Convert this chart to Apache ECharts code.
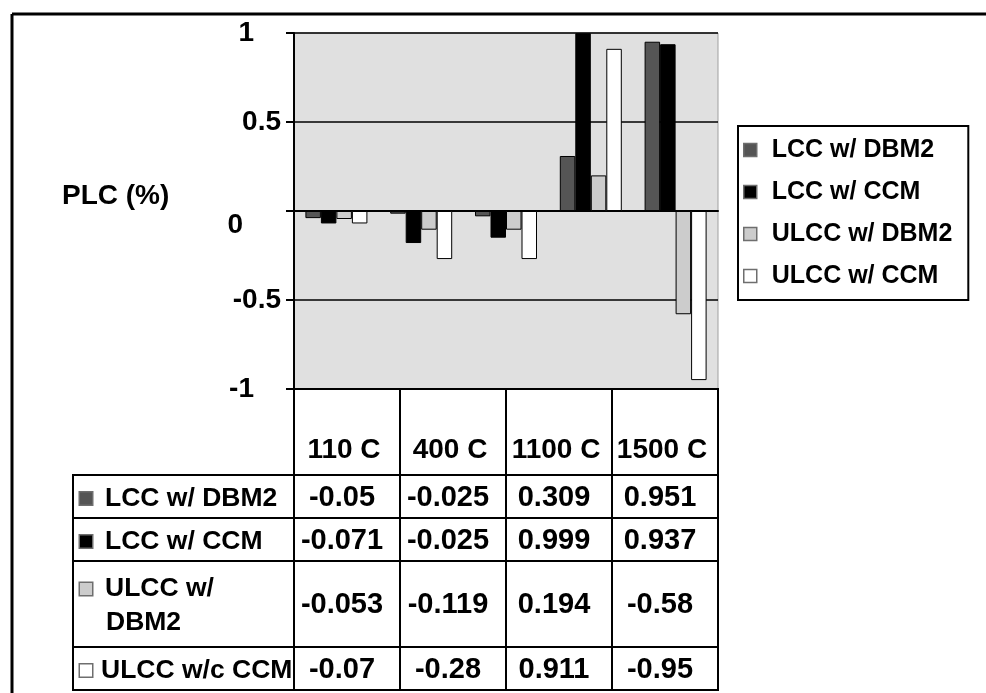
<!DOCTYPE html>
<html>
<head>
<meta charset="utf-8">
<script src="https://cdn.jsdelivr.net/npm/echarts@6/dist/echarts.min.js"></script>
<style>
html,body{margin:0;padding:0;background:#fff;}
#chart{width:986px;height:693px;}
</style>
</head>
<body>
<div id="chart"></div>
<script>
// ---- data ----
// bar groups drawn in the plot (five groups are drawn; the data table lists four)
const categories = ['110 C', '400 C', 'group 3', '1100 C', '1500 C'];
const seriesNames = ['LCC w/ DBM2', 'LCC w/ CCM', 'ULCC w/ DBM2', 'ULCC w/ CCM'];
const lccDbm2  = [-0.04, -0.015, -0.03, 0.309, 0.951];
const lccCcm   = [-0.07, -0.18, -0.15, 0.999, 0.937];
const ulccDbm2 = [-0.045, -0.105, -0.105, 0.2, -0.58];
const ulccCcm  = [-0.07, -0.27, -0.27, 0.911, -0.95];
const yTicks = [-1, -0.5, 0, 0.5, 1];
const yTitle = 'PLC (%)';

// data table below the plot
const tableColumns = ['110 C', '400 C', '1100 C', '1500 C'];
const tableRowLabels = ['LCC w/ DBM2', 'LCC w/ CCM', 'ULCC w/\nDBM2', 'ULCC w/c CCM'];
const tableValues = [
  ['-0.05', '-0.025', '0.309', '0.951'],
  ['-0.071', '-0.025', '0.999', '0.937'],
  ['-0.053', '-0.119', '0.194', '-0.58'],
  ['-0.07', '-0.28', '0.911', '-0.95']
];

// ---- styles / layout ----
const colors = ['#555555', '#000000', '#cccccc', '#ffffff'];
const FONT = '"Liberation Sans", Arial, sans-serif';
const rowUnits = [2, 1, 1, 2, 1];          // header + 4 rows (relative heights)
const labelColUnits = 221 / 106;           // label column width relative to a value column

const seriesValues = [lccDbm2, lccCcm, ulccDbm2, ulccCcm];

// build table cells
const rowEdges = [0];
rowUnits.forEach(u => rowEdges.push(rowEdges[rowEdges.length - 1] + u));
const cells = [];
tableColumns.forEach((t, c) => cells.push({x0: c, x1: c + 1, y0: rowEdges[0], y1: rowEdges[1], text: t, kind: 'head'}));
tableRowLabels.forEach((lab, r) => {
  const y0 = rowEdges[r + 1], y1 = rowEdges[r + 2];
  cells.push({x0: -labelColUnits, x1: 0, y0, y1, text: lab, kind: 'label', r});
  tableValues[r].forEach((v, c) => cells.push({x0: c, x1: c + 1, y0, y1, text: v, kind: 'value', r}));
});

function labelRich(lab, r) {
  const lines = lab.split('\n');
  const gap = r === 3 ? '{sp2| }' : '{sp| }';
  let s = '{ic' + r + '| }' + gap + '{t|' + lines[0] + '}';
  for (let i = 1; i < lines.length; i++) s += '\n{ind| }{t|' + lines[i] + '}';
  return s;
}
const labelRichStyles = {
  t: {fontFamily: FONT, fontWeight: 'bold', fontSize: 26.5, fill: '#000', lineHeight: 34},
  sp: {width: 13}, sp2: {width: 9}, ind: {width: 26}
};
colors.forEach((col, i) => {
  labelRichStyles['ic' + i] = {width: 12, height: 12, backgroundColor: col, borderColor: '#6e6e6e', borderWidth: 1.5};
});

const chart = echarts.init(document.getElementById('chart'), null, {renderer: 'canvas'});

const labelBase = {fontFamily: FONT, fontWeight: 'bold', fontSize: 28, color: '#000'};

const option = {
  animation: false,
  backgroundColor: '#fff',
  graphic: [
    {type: 'line', shape: {x1: 12, y1: 14, x2: 986, y2: 14}, style: {stroke: '#000', lineWidth: 3}},
    {type: 'line', shape: {x1: 12, y1: 14, x2: 12, y2: 693}, style: {stroke: '#000', lineWidth: 3}},
    {type: 'text', left: 62, top: 182, style: {text: yTitle, font: 'bold 28px ' + FONT, fill: '#000'}}
  ],
  legend: {
    data: seriesNames,
    orient: 'vertical',
    left: 738, top: 126,
    padding: [10, 16, 10, 5],
    itemGap: 14,
    itemWidth: 13, itemHeight: 13,
    icon: 'rect',
    borderColor: '#000', borderWidth: 2,
    itemStyle: {borderColor: '#6e6e6e', borderWidth: 1.5},
    textStyle: {fontFamily: FONT, fontWeight: 'bold', fontSize: 25, color: '#000', lineHeight: 28, padding: [0, 0, 0, 10]}
  },
  grid: [
    {left: 294, right: 268, top: 33, bottom: 304, show: true, backgroundColor: '#e0e0e0', borderColor: '#a0a0a0', borderWidth: 1, outerBoundsMode: 'none', containLabel: false},
    {left: 73, right: 268, top: 389, bottom: 3, outerBoundsMode: 'none', containLabel: false}
  ],
  xAxis: [
    {type: 'category', gridIndex: 0, data: categories,
     axisLine: {onZero: true, lineStyle: {color: '#000', width: 2}},
     axisTick: {show: false}, axisLabel: {show: false}, splitLine: {show: false}},
    {type: 'value', gridIndex: 1, min: -labelColUnits, max: tableColumns.length, show: false}
  ],
  yAxis: [
    {type: 'value', gridIndex: 0, min: yTicks[0], max: yTicks[yTicks.length - 1], interval: 0.5,
     axisLine: {show: true, onZero: false, lineStyle: {color: '#000', width: 2}},
     axisTick: {show: true, length: 8, inside: false, lineStyle: {color: '#000', width: 2}},
     splitLine: {show: true, lineStyle: {color: '#000', width: 1.5}},
     axisLabel: {
       margin: 13,
       formatter: v => {
         if (v === 1 || v === -1) return '{e|' + v + '}';
         if (v === 0) return '{z|0}';
         return '{m|' + v + '}';
       },
       rich: {
         m: labelBase,
         e: Object.assign({}, labelBase, {padding: [0, 27, 0, 0]}),
         z: Object.assign({}, labelBase, {padding: [28, 38, 0, 0]})
       }
     }},
    {type: 'value', gridIndex: 1, inverse: true, min: 0, max: rowEdges[rowEdges.length - 1], show: false}
  ],
  series: seriesNames.map((name, i) => ({
    name, type: 'bar', xAxisIndex: 0, yAxisIndex: 0,
    data: seriesValues[i],
    barWidth: 15.5, barGap: '0%',
    itemStyle: {color: colors[i], borderColor: '#000', borderWidth: 1}
  })).concat([{
    type: 'custom', name: 'table', xAxisIndex: 1, yAxisIndex: 1, clip: false,
    data: cells.map(c => [c.x0, c.x1, c.y0, c.y1]),
    encode: {x: [0, 1], y: [2, 3]},
    renderItem: function (params, api) {
      const cell = cells[params.dataIndex];
      const p0 = api.coord([cell.x0, cell.y0]);
      const p1 = api.coord([cell.x1, cell.y1]);
      const x = p0[0], y = p0[1], w = p1[0] - p0[0], h = p1[1] - p0[1];
      const children = [{
        type: 'rect', shape: {x, y, width: w, height: h},
        style: {fill: '#fff', stroke: '#000', lineWidth: 2}
      }];
      if (cell.kind === 'head') {
        children.push({type: 'text', style: {text: cell.text, x: x + w / 2 - 3, y: y + h - 11,
          align: 'center', verticalAlign: 'bottom', font: 'bold 28px ' + FONT, fill: '#000'}});
      } else if (cell.kind === 'value') {
        children.push({type: 'text', style: {text: cell.text, x: x + w / 2 - 5, y: y + h / 2 + 1,
          align: 'center', verticalAlign: 'middle', font: 'bold 29px ' + FONT, fill: '#000'}});
      } else {
        children.push({type: 'text', style: {text: labelRich(cell.text, cell.r), rich: labelRichStyles,
          x: x + 7, y: y + h / 2 + 2, align: 'left', verticalAlign: 'middle'}});
      }
      return {type: 'group', children};
    }
  }])
};
chart.setOption(option);
</script>
</body>
</html>
